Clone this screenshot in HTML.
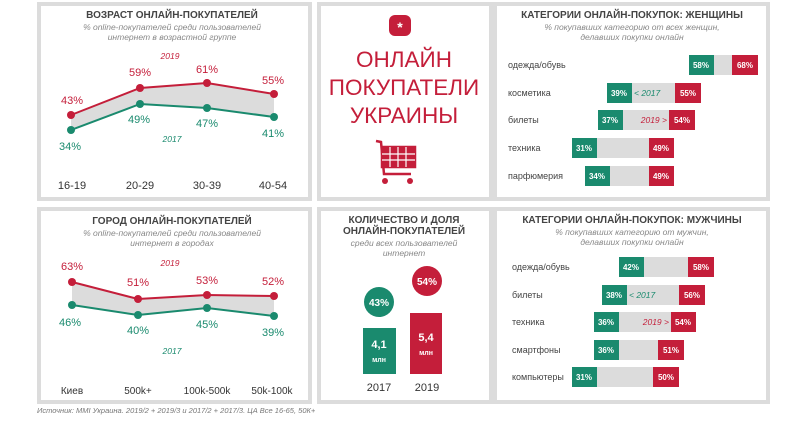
<!DOCTYPE html>
<html><head><meta charset="utf-8"><style>
html,body{margin:0;padding:0;background:#fff;}
body{width:800px;height:419px;position:relative;overflow:hidden;font-family:"Liberation Sans","DejaVu Sans",sans-serif;}
</style></head><body>
<svg width="800" height="419" viewBox="0 0 800 419" xmlns="http://www.w3.org/2000/svg" font-family="Liberation Sans, DejaVu Sans, sans-serif">
<g fill="none" stroke="#dcdcdc" stroke-width="4">
<rect x="39" y="4" width="271" height="195"/>
<rect x="319" y="4" width="172" height="195"/>
<rect x="495" y="4" width="273" height="195"/>
<rect x="39" y="209" width="271" height="193"/>
<rect x="319" y="209" width="172" height="193"/>
<rect x="495" y="209" width="273" height="193"/>
</g>
<!-- top-left -->
<text x="172" y="18" text-anchor="middle" font-size="10" fill="#444" font-weight="bold">ВОЗРАСТ ОНЛАЙН-ПОКУПАТЕЛЕЙ</text>
<text x="172" y="30" text-anchor="middle" font-size="8.5" fill="#888" font-style="italic">% online-покупателей среди пользователей</text>
<text x="172" y="40" text-anchor="middle" font-size="8.5" fill="#888" font-style="italic">интернет в возрастной группе</text>
<polygon points="71,115 140,88 207,83 274,94 274,117 207,108 140,104 71,130" fill="#dcdcdc"/>
<polyline points="71,115 140,88 207,83 274,94" fill="none" stroke="#c41e3a" stroke-width="2"/>
<polyline points="71,130 140,104 207,108 274,117" fill="none" stroke="#1a8a6e" stroke-width="2"/>
<g fill="#c41e3a"><circle cx="71" cy="115" r="4"/><circle cx="140" cy="88" r="4"/><circle cx="207" cy="83" r="4"/><circle cx="274" cy="94" r="4"/></g>
<g fill="#1a8a6e"><circle cx="71" cy="130" r="4"/><circle cx="140" cy="104" r="4"/><circle cx="207" cy="108" r="4"/><circle cx="274" cy="117" r="4"/></g>
<g font-size="11" fill="#c41e3a" text-anchor="middle"><text x="72" y="104">43%</text><text x="140" y="76">59%</text><text x="207" y="73">61%</text><text x="273" y="84">55%</text>
<text x="170" y="59" font-size="8.5" font-style="italic">2019</text></g>
<g font-size="11" fill="#1a8a6e" text-anchor="middle"><text x="70" y="150">34%</text><text x="139" y="123">49%</text><text x="207" y="127">47%</text><text x="273" y="137">41%</text>
<text x="172" y="142" font-size="8.5" font-style="italic">2017</text></g>
<g font-size="11" fill="#333" text-anchor="middle"><text x="72" y="189">16-19</text><text x="140" y="189">20-29</text><text x="207" y="189">30-39</text><text x="273" y="189">40-54</text></g>
<!-- bottom-left -->
<text x="172" y="224" text-anchor="middle" font-size="10" fill="#444" font-weight="bold">ГОРОД ОНЛАЙН-ПОКУПАТЕЛЕЙ</text>
<text x="172" y="236" text-anchor="middle" font-size="8.5" fill="#888" font-style="italic">% online-покупателей среди пользователей</text>
<text x="172" y="246" text-anchor="middle" font-size="8.5" fill="#888" font-style="italic">интернет в городах</text>
<polygon points="72,282 138,299 207,295 274,296 274,316 207,308 138,315 72,305" fill="#dcdcdc"/>
<polyline points="72,282 138,299 207,295 274,296" fill="none" stroke="#c41e3a" stroke-width="2"/>
<polyline points="72,305 138,315 207,308 274,316" fill="none" stroke="#1a8a6e" stroke-width="2"/>
<g fill="#c41e3a"><circle cx="72" cy="282" r="4"/><circle cx="138" cy="299" r="4"/><circle cx="207" cy="295" r="4"/><circle cx="274" cy="296" r="4"/></g>
<g fill="#1a8a6e"><circle cx="72" cy="305" r="4"/><circle cx="138" cy="315" r="4"/><circle cx="207" cy="308" r="4"/><circle cx="274" cy="316" r="4"/></g>
<g font-size="11" fill="#c41e3a" text-anchor="middle"><text x="72" y="270">63%</text><text x="138" y="286">51%</text><text x="207" y="284">53%</text><text x="273" y="285">52%</text>
<text x="170" y="266" font-size="8.5" font-style="italic">2019</text></g>
<g font-size="11" fill="#1a8a6e" text-anchor="middle"><text x="70" y="326">46%</text><text x="138" y="334">40%</text><text x="207" y="328">45%</text><text x="273" y="336">39%</text>
<text x="172" y="354" font-size="8.5" font-style="italic">2017</text></g>
<g font-size="10" fill="#333" text-anchor="middle"><text x="72" y="394">Киев</text><text x="138" y="394">500k+</text><text x="207" y="394">100k-500k</text><text x="272" y="394">50k-100k</text></g>
<text x="37" y="413" font-size="7.5" fill="#777" font-style="italic">Источник: MMI Украина. 2019/2 + 2019/3 и 2017/2 + 2017/3. ЦА Все 16-65, 50К+</text>
<!-- top-center -->
<rect x="389" y="15" width="22" height="21" rx="6" fill="#c41e3a"/>
<text x="400" y="32" text-anchor="middle" font-size="14" fill="#fff" font-weight="bold">*</text>
<g font-size="22.5" fill="#c41e3a" text-anchor="middle"><text x="404" y="67">ОНЛАЙН</text><text x="404" y="95">ПОКУПАТЕЛИ</text><text x="404" y="123">УКРАИНЫ</text></g>
<g stroke="#c41e3a" stroke-width="2.5" fill="none">
<polyline points="376,141 381,142 384,174 411,174"/>
<rect x="382" y="147" width="33" height="20" fill="#c41e3a"/>
</g>
<g stroke="#fff" stroke-width="1.2"><line x1="382" y1="154" x2="415" y2="154"/><line x1="382" y1="160" x2="415" y2="160"/><line x1="390" y1="147" x2="390" y2="167"/><line x1="398" y1="147" x2="398" y2="167"/><line x1="406" y1="147" x2="406" y2="167"/></g>
<circle cx="385" cy="181" r="3" fill="#c41e3a"/><circle cx="410" cy="181" r="3" fill="#c41e3a"/>
<!-- bottom-center -->
<text x="404" y="223" text-anchor="middle" font-size="10" fill="#444" font-weight="bold">КОЛИЧЕСТВО И ДОЛЯ</text>
<text x="404" y="234" text-anchor="middle" font-size="10" fill="#444" font-weight="bold">ОНЛАЙН-ПОКУПАТЕЛЕЙ</text>
<text x="404" y="246" text-anchor="middle" font-size="8.5" fill="#888" font-style="italic">среди всех пользователей</text>
<text x="404" y="256" text-anchor="middle" font-size="8.5" fill="#888" font-style="italic">интернет</text>
<circle cx="379" cy="302" r="15" fill="#1a8a6e"/><circle cx="427" cy="281" r="15" fill="#c41e3a"/>
<text x="379" y="306" text-anchor="middle" font-size="10" fill="#fff" font-weight="bold">43%</text>
<text x="427" y="285" text-anchor="middle" font-size="10" fill="#fff" font-weight="bold">54%</text>
<rect x="363" y="328" width="33" height="46" fill="#1a8a6e"/><rect x="410" y="313" width="32" height="61" fill="#c41e3a"/>
<g fill="#fff" font-weight="bold" text-anchor="middle"><text x="379" y="348" font-size="11">4,1</text><text x="379" y="362" font-size="7">млн</text>
<text x="426" y="341" font-size="11">5,4</text><text x="426" y="355" font-size="7">млн</text></g>
<g font-size="11" fill="#333" text-anchor="middle"><text x="379" y="391">2017</text><text x="427" y="391">2019</text></g>
<!-- top-right -->
<text x="632" y="18" text-anchor="middle" font-size="10" fill="#444" font-weight="bold">КАТЕГОРИИ ОНЛАЙН-ПОКУПОК: ЖЕНЩИНЫ</text>
<text x="632" y="30" text-anchor="middle" font-size="8.5" fill="#888" font-style="italic">% покупавших категорию от всех женщин,</text>
<text x="632" y="40" text-anchor="middle" font-size="8.5" fill="#888" font-style="italic">делавших покупки онлайн</text>
<g font-size="9" fill="#444">
<text x="508" y="68">одежда/обувь</text><text x="508" y="96">косметика</text><text x="508" y="123">билеты</text><text x="508" y="151">техника</text><text x="508" y="179">парфюмерия</text>
</g>
<g fill="#dcdcdc"><rect x="713" y="55" width="20" height="20"/><rect x="632" y="83" width="43" height="20"/><rect x="623" y="110" width="46" height="20"/><rect x="597" y="138" width="52" height="20"/><rect x="610" y="166" width="39" height="20"/></g>
<g fill="#1a8a6e"><rect x="689" y="55" width="25" height="20"/><rect x="607" y="83" width="25" height="20"/><rect x="598" y="110" width="25" height="20"/><rect x="572" y="138" width="25" height="20"/><rect x="585" y="166" width="25" height="20"/></g>
<g fill="#c41e3a"><rect x="732" y="55" width="26" height="20"/><rect x="675" y="83" width="26" height="20"/><rect x="669" y="110" width="26" height="20"/><rect x="649" y="138" width="25" height="20"/><rect x="649" y="166" width="25" height="20"/></g>
<g font-size="8" fill="#fff" font-weight="bold" text-anchor="middle">
<text x="701" y="68">58%</text><text x="619" y="96">39%</text><text x="610" y="123">37%</text><text x="584" y="151">31%</text><text x="597" y="179">34%</text>
<text x="745" y="68">68%</text><text x="688" y="96">55%</text><text x="682" y="123">54%</text><text x="661" y="151">49%</text><text x="661" y="179">49%</text>
</g>
<text x="634" y="96" font-size="8.5" fill="#1a8a6e" font-style="italic">&lt; 2017</text>
<text x="667" y="123" font-size="8.5" fill="#c41e3a" font-style="italic" text-anchor="end">2019 &gt;</text>
<!-- bottom-right -->
<text x="632" y="223" text-anchor="middle" font-size="10" fill="#444" font-weight="bold">КАТЕГОРИИ ОНЛАЙН-ПОКУПОК: МУЖЧИНЫ</text>
<text x="632" y="235" text-anchor="middle" font-size="8.5" fill="#888" font-style="italic">% покупавших категорию от мужчин,</text>
<text x="632" y="245" text-anchor="middle" font-size="8.5" fill="#888" font-style="italic">делавших покупки онлайн</text>
<g font-size="9" fill="#444">
<text x="512" y="270">одежда/обувь</text><text x="512" y="298">билеты</text><text x="512" y="325">техника</text><text x="512" y="353">смартфоны</text><text x="512" y="380">компьютеры</text>
</g>
<g fill="#dcdcdc"><rect x="644" y="257" width="44" height="20"/><rect x="627" y="285" width="52" height="20"/><rect x="619" y="312" width="52" height="20"/><rect x="619" y="340" width="39" height="20"/><rect x="597" y="367" width="56" height="20"/></g>
<g fill="#1a8a6e"><rect x="619" y="257" width="25" height="20"/><rect x="602" y="285" width="25" height="20"/><rect x="594" y="312" width="25" height="20"/><rect x="594" y="340" width="25" height="20"/><rect x="572" y="367" width="25" height="20"/></g>
<g fill="#c41e3a"><rect x="688" y="257" width="26" height="20"/><rect x="679" y="285" width="26" height="20"/><rect x="671" y="312" width="25" height="20"/><rect x="658" y="340" width="26" height="20"/><rect x="653" y="367" width="26" height="20"/></g>
<g font-size="8" fill="#fff" font-weight="bold" text-anchor="middle">
<text x="631" y="270">42%</text><text x="614" y="298">38%</text><text x="606" y="325">36%</text><text x="606" y="353">36%</text><text x="584" y="380">31%</text>
<text x="701" y="270">58%</text><text x="692" y="298">56%</text><text x="683" y="325">54%</text><text x="671" y="353">51%</text><text x="666" y="380">50%</text>
</g>
<text x="629" y="298" font-size="8.5" fill="#1a8a6e" font-style="italic">&lt; 2017</text>
<text x="669" y="325" font-size="8.5" fill="#c41e3a" font-style="italic" text-anchor="end">2019 &gt;</text>
</svg>
</body></html>
